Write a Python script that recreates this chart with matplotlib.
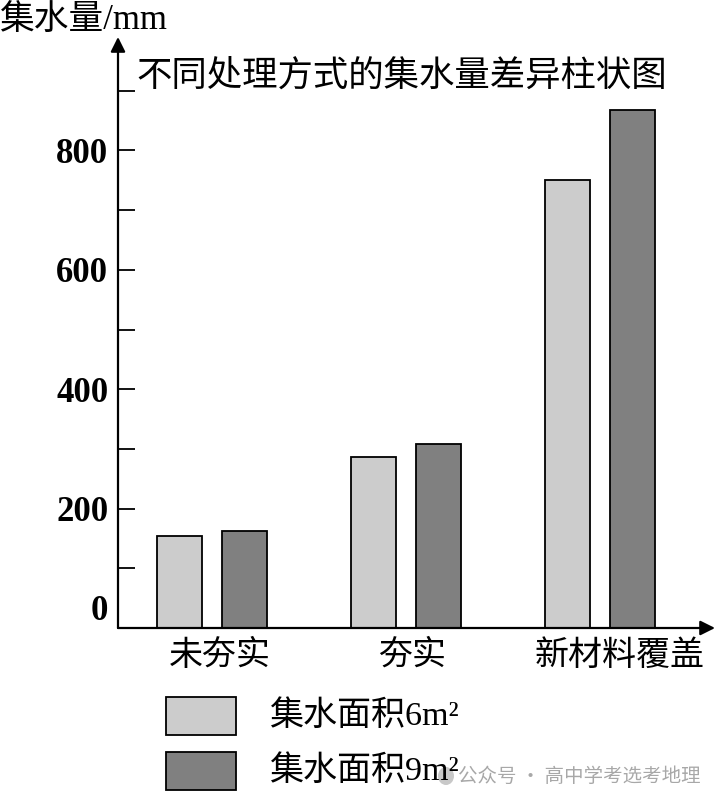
import matplotlib.pyplot as plt
from matplotlib.patches import Rectangle, Circle
import numpy as np

# data
categories = ['未夯实', '夯实', '新材料覆盖']
series_names = ['集水面积6m²', '集水面积9m²']
area_6 = [154, 286, 751]
area_9 = [163, 309, 867]
colors = ['#cccccc', '#808080']
yticks_major = [0, 200, 400, 600, 800]
yticks_all = [0, 100, 200, 300, 400, 500, 600, 700, 800, 900]

cjk = ['Liberation Serif', 'Noto Sans CJK SC', 'DejaVu Sans']

W, H = 716, 806
fig = plt.figure(figsize=(W / 100, H / 100), dpi=100)

# axes placed in pixels: left 118, bottom 628, top 37, right 715
ax = fig.add_axes([118 / W, (H - 628) / H, (715 - 118) / W, (628 - 37) / H])
ax.set_ylim(0, 990)
ax.set_xlim(-0.4845, -0.4845 + 597 / 194)

x = np.arange(len(categories))
bw = 0.232
off = 0.170
ax.bar(x - off, area_6, bw, color=colors[0], edgecolor='black', linewidth=1.3, zorder=2)
ax.bar(x + off, area_9, bw, color=colors[1], edgecolor='black', linewidth=1.3, zorder=2)

for s in ax.spines.values():
    s.set_visible(False)

# axes with arrows
ax.annotate('', xy=(0, 1), xycoords='axes fraction', xytext=(0, 0),
            arrowprops=dict(arrowstyle='-|>', lw=1.6, color='black',
                            mutation_scale=22, shrinkA=0, shrinkB=0))
ax.annotate('', xy=(1, 0), xycoords='axes fraction', xytext=(0, 0),
            arrowprops=dict(arrowstyle='-|>', lw=1.6, color='black',
                            mutation_scale=22, shrinkA=0, shrinkB=0))

ax.set_yticks(yticks_all)
ax.set_yticklabels([str(v) if v in yticks_major else '' for v in yticks_all],
                   fontfamily='Liberation Serif', fontweight='bold', fontsize=25)
ax.tick_params(axis='y', direction='in', length=12, width=1.3, pad=7)
ax.get_yticklabels()[0].set_va('bottom')

ax.set_xticks(x)
ax.set_xticklabels([])
ax.tick_params(axis='x', length=0)
label_shift = [0.04, 0.03, 0.1]
for i, c in enumerate(categories):
    ax.text(x[i] + label_shift[i], -20, c, ha='center', va='top', fontsize=24.5,
            family=cjk, clip_on=False)

# y label and title
fig.text(0.0, 1 - 20 / H, '集水量/mm', ha='left', va='center', fontsize=25, family=cjk)
fig.text(136 / W, 1 - 77 / H, '不同处理方式的集水量差异柱状图', ha='left', va='center',
         fontsize=25.5, family=cjk)

# legend drawn by hand
box_y = [697, 752]
for i, name in enumerate(series_names):
    y0 = box_y[i]
    fig.add_artist(Rectangle((166 / W, 1 - (y0 + 38) / H), 70 / W, 38 / H,
                             facecolor=colors[i], edgecolor='black', linewidth=1.3,
                             transform=fig.transFigure))
    fig.text(270 / W, 1 - (y0 + 19) / H, name, ha='left', va='center',
             fontsize=24.5, family=cjk)

# watermark
fig.add_artist(Circle((446 / W, 1 - 776 / H), 8 / W, transform=fig.transFigure,
                      facecolor='#c8c8c8', edgecolor='none'))
fig.text(458 / W, 1 - 776 / H, '公众号 · 高中学考选考地理', ha='left', va='center',
         fontsize=14, color='#a8a8a8', family=['Noto Sans CJK SC', 'DejaVu Sans'])

fig.savefig('out.png', dpi=100)
